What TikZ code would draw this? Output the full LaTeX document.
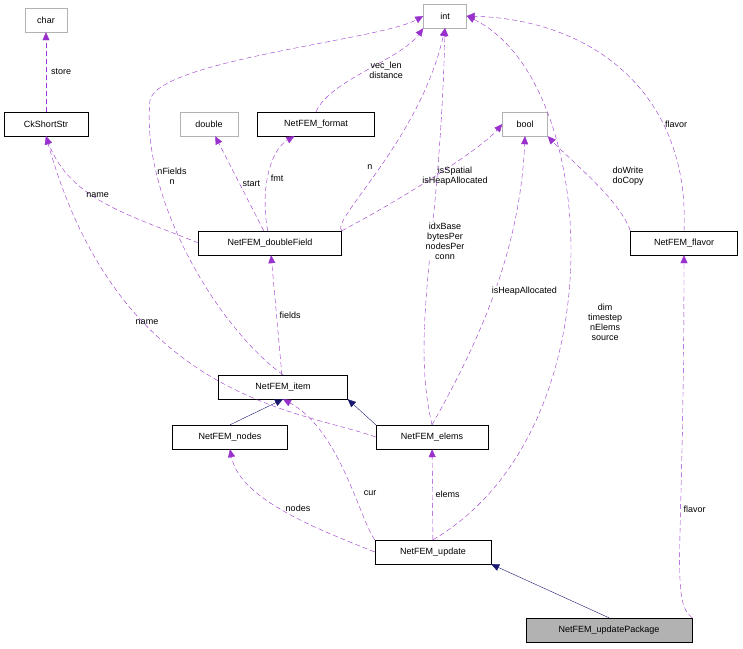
\documentclass[tikz,border=0pt]{standalone}
\usepackage{fontspec}
\setmainfont{Liberation Sans}
\usetikzlibrary{arrows.meta}
\definecolor{pur}{RGB}{153,50,204}
\definecolor{nav}{RGB}{25,25,112}
\begin{document}
\begin{tikzpicture}[x=1pt,y=-1pt,font=\fontsize{9}{10}\selectfont,
 box/.style={draw,rectangle,minimum height=24pt,inner sep=3pt},
 gbox/.style={box,draw=gray!60},
 dep/.style={draw=pur,dash pattern=on 5pt off 3pt,-{Triangle[length=8pt,width=7pt,fill=pur]}},
 inh/.style={draw=nav,-{Triangle[length=8pt,width=7pt,fill=nav]}},
 lab/.style={align=center,inner sep=1pt}]
\useasboundingbox (0,0) rectangle (743,648);
\node[gbox,minimum width=42pt] (char) at (46,20) {char};
\node[box,minimum width=84pt] (ck) at (46,124) {CkShortStr};
\node[gbox,minimum width=58pt] (double) at (209,124) {double};
\node[box,minimum width=117pt] (fmt) at (316,124) {NetFEM\_format};
\node[gbox,minimum width=43pt] (int) at (445,16) {int};
\node[gbox,minimum width=45pt] (bool) at (525,124) {bool};
\node[box,minimum width=143pt] (df) at (270,243) {NetFEM\_doubleField};
\node[box,minimum width=107pt] (flavor) at (684,243) {NetFEM\_flavor};
\node[box,minimum width=129pt] (item) at (283,387) {NetFEM\_item};
\node[box,minimum width=115pt] (nodes) at (230,437) {NetFEM\_nodes};
\node[box,minimum width=112pt] (elems) at (432,437) {NetFEM\_elems};
\node[box,minimum width=116pt] (update) at (433,552) {NetFEM\_update};
\node[box,minimum width=166pt,fill=gray!60] (pkg) at (609,630) {NetFEM\_updatePackage};

\draw[dep] (ck) -- (char) node[lab,midway,right=4pt] {store};
\draw[dep] (fmt.north) .. controls (330,80) and (400,60) .. (int.south west) node[lab,pos=0.5,right=2pt] {vec\_len\\distance};
\draw[dep] (df.west) .. controls (130,215) and (70,200) .. (ck.south) node[lab,pos=0.55,above] {name};
\draw[dep] (df) -- (double) node[lab,midway,right=2pt] {start};
\draw[dep] (df) .. controls (260,190) and (270,150) .. (fmt) node[lab,pos=0.45,right=2pt] {fmt};
\draw[dep] (df.north east) .. controls (330,220) and (420,140) .. (int.south) node[lab,pos=0.5,left=6pt] {n};
\draw[dep] (df.north east) .. controls (400,200) and (480,150) .. (bool.west);
\node[lab] at (455,176) {isSpatial\\isHeapAllocated};
\draw[dep] (item.north) .. controls (220,330) and (140,200) .. (150,100) .. controls (160,60) and (380,40) .. (int.west) ;
\node[lab] at (172,176) {nFields\\n};
\draw[dep] (item) -- (df) node[lab,midway,right=2pt] {fields};
\draw[dep] (elems.west) .. controls (300,410) and (120,400) .. (ck.south);
\node[lab] at (147,322) {name};
\draw[dep] (elems.north) .. controls (410,330) and (440,240) .. (445,28);
\node[lab,fill=white] at (445,241) {idxBase\\bytesPer\\nodesPer\\conn};
\draw[dep] (elems.north) .. controls (480,340) and (520,250) .. (bool.south) node[lab,pos=0.5,right=-4pt,fill=white] {isHeapAllocated};
\draw[inh] (elems.north west) -- (item.south east);
\draw[inh] (nodes.north) -- (item.south);
\draw[dep] (update.north) .. controls (620,430) and (600,80) .. (int.east);
\node[lab] at (605,322) {dim\\timestep\\nElems\\source};
\draw[dep] (update.north west) .. controls (360,520) and (340,430) .. (item.south) ;
\node[lab] at (370,493) {cur};
\draw[dep] (update.west) .. controls (320,530) and (240,500) .. (nodes.south) ;
\node[lab] at (298,508) {nodes};
\draw[dep] (update) -- (elems) node[lab,midway,right=2pt] {elems};
\draw[inh] (pkg.north) -- (update.south east);
\draw[dep] (pkg.north east) .. controls (670,600) and (684,560) .. (flavor.south) node[lab,pos=0.6,right=2pt] {flavor};
\draw[dep] (flavor.north) .. controls (690,100) and (600,20) .. (int.east);
\node[lab] at (676,124) {flavor};
\draw[dep] (flavor.north west) .. controls (620,200) and (570,160) .. (bool.south east);
\node[lab] at (628,176) {doWrite\\doCopy};
\end{tikzpicture}
\end{document}
